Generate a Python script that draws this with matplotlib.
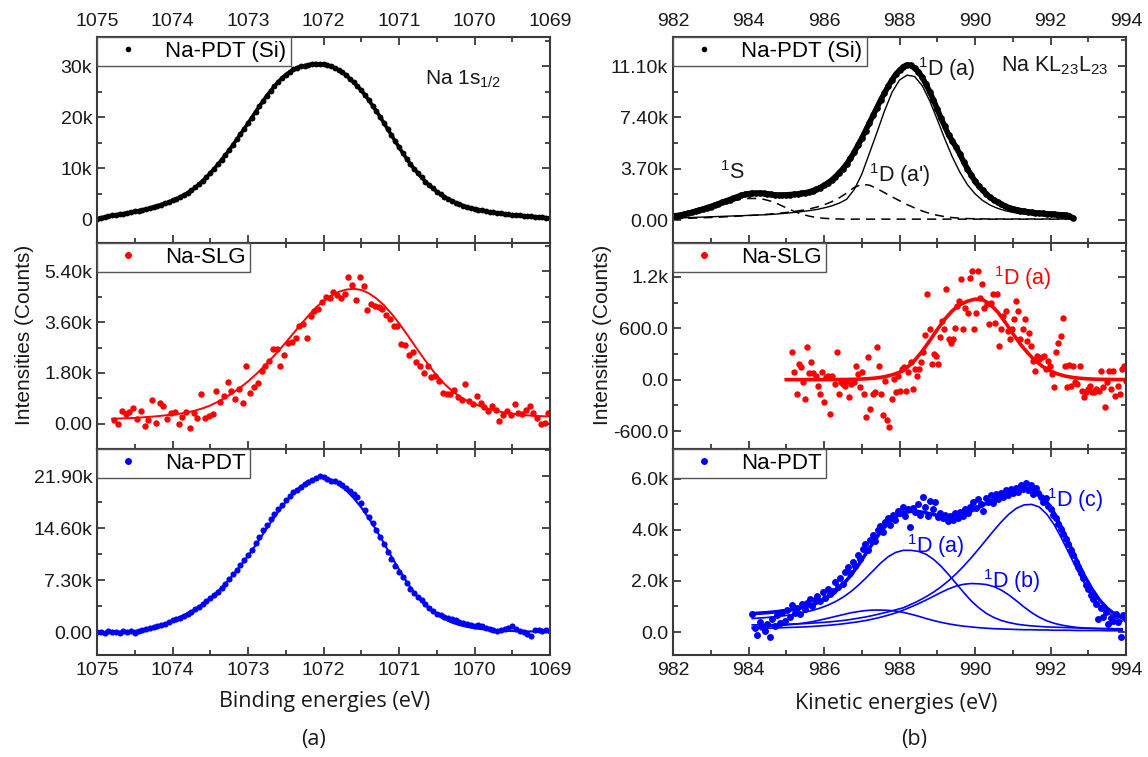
import numpy as np
import matplotlib.pyplot as plt
from matplotlib.ticker import FixedLocator, MultipleLocator
from matplotlib.lines import Line2D

plt.rcParams['font.family'] = ['Liberation Sans', 'DejaVu Sans']
plt.rcParams['mathtext.fontset'] = 'custom'
plt.rcParams['mathtext.rm'] = 'Liberation Sans'
plt.rcParams['mathtext.it'] = 'Liberation Sans:italic'

# ---------------- Na 1s core level (binding energy, kilo-counts) ----------------
na1s_pdt_si_range = (1075.0, 1069.0)
na1s_pdt_si = [
    0.10, 0.25, 0.40, 0.55, 0.70, 0.85, 0.95, 1.05, 1.20, 1.35,
    1.50, 1.65, 1.80, 1.95, 2.15, 2.40, 2.60, 2.85, 3.10, 3.35,
    3.65, 3.95, 4.30, 4.70, 5.15, 5.60, 6.20, 6.80, 7.50, 8.25,
    9.00, 9.85, 10.70, 11.60, 12.55, 13.50, 14.55, 15.60, 16.65, 17.70,
    18.80, 19.90, 21.00, 22.10, 23.15, 24.20, 25.15, 26.05, 26.90, 27.65,
    28.30, 28.85, 29.35, 29.70, 29.95, 30.10, 30.25, 30.45, 30.50, 30.40,
    30.35, 30.20, 29.95, 29.65, 29.25, 28.80, 28.20, 27.50, 26.80, 26.05,
    25.25, 24.30, 23.30, 22.25, 21.15, 20.05, 18.85, 17.65, 16.45, 15.25,
    14.10, 12.95, 11.85, 10.80, 9.85, 9.00, 8.15, 7.35, 6.65, 6.00,
    5.40, 4.85, 4.35, 3.95, 3.55, 3.20, 2.90, 2.60, 2.35, 2.15,
    2.00, 1.85, 1.70, 1.55, 1.40, 1.30, 1.20, 1.10, 1.00, 0.90,
    0.85, 0.80, 0.72, 0.65, 0.58, 0.50, 0.45, 0.40, 0.32, 0.25,
    0.20,
]

na1s_slg_range = (1074.77, 1069.02)
na1s_slg = [
    0.15, 0.00, 0.47, 0.35, 0.43, 0.55, 0.18, 0.45, -0.06, 0.12,
    0.86, 0.02, 0.74, 0.62, 0.18, 0.38, 0.43, 0.00, 0.26, 0.43,
    -0.15, 0.39, 0.21, 1.06, 0.20, 0.27, 0.35, 1.17, 0.76, 1.00,
    1.47, 1.17, 0.88, 1.23, 0.74, 2.05, 1.09, 1.29, 1.44, 1.88,
    2.03, 2.23, 2.64, 2.64, 2.05, 2.45, 2.85, 2.90, 3.05, 3.45,
    3.55, 3.05, 3.80, 4.00, 4.05, 4.30, 4.50, 4.45, 4.65, 4.55,
    4.45, 4.58, 5.20, 4.90, 4.38, 5.20, 4.88, 4.03, 4.25, 4.18,
    4.12, 4.08, 3.85, 3.70, 3.45, 3.45, 2.83, 2.80, 2.45, 2.55,
    2.20, 2.05, 1.80, 2.05, 1.65, 1.70, 1.50, 1.10, 1.05, 1.05,
    1.20, 0.95, 0.85, 1.40, 0.82, 0.70, 1.00, 0.75, 0.60, 0.45,
    0.62, 0.50, 0.10, 0.33, 0.45, 0.30, 0.70, 0.40, 0.35, 0.50,
    0.62, 0.40, 0.20, 0.00, 0.02, 0.40,
]

na1s_slg_fit_range = (1074.8, 1069.0)
na1s_slg_fit = [
    0.18, 0.19, 0.20, 0.21, 0.23, 0.25, 0.27, 0.30, 0.33, 0.36,
    0.41, 0.47, 0.55, 0.65, 0.78, 0.93, 1.10, 1.29, 1.50, 1.74,
    2.00, 2.28, 2.57, 2.88, 3.20, 3.52, 3.83, 4.12, 4.35, 4.54,
    4.67, 4.75, 4.78, 4.74, 4.62, 4.44, 4.20, 3.90, 3.56, 3.19,
    2.80, 2.42, 2.05, 1.71, 1.42, 1.17, 0.97, 0.82, 0.70, 0.60,
    0.52, 0.45, 0.40, 0.36, 0.33, 0.30, 0.28, 0.27, 0.26,
]

na1s_pdt_range = (1075.0, 1069.0)
na1s_pdt = [
    0.00, 0.05, -0.05, 0.10, 0.00, 0.05, -0.10, 0.10, 0.05, 0.15,
    -0.10, 0.20, 0.35, 0.45, 0.55, 0.70, 0.85, 1.00, 1.20, 1.45,
    1.70, 1.90, 2.05, 2.30, 2.55, 2.85, 3.20, 3.50, 3.90, 4.35,
    4.80, 5.20, 5.70, 6.20, 6.80, 7.45, 8.10, 8.75, 9.40, 10.10,
    10.80, 11.60, 12.50, 13.40, 14.30, 15.10, 15.90, 16.60, 17.30, 17.90,
    18.50, 19.05, 19.60, 20.00, 20.40, 20.80, 21.10, 21.40, 21.65, 21.85,
    21.80, 21.50, 21.20, 21.15, 20.95, 20.60, 20.20, 19.75, 19.40, 18.90,
    18.10, 17.20, 16.20, 15.30, 14.40, 13.40, 12.40, 11.30, 10.30, 9.30,
    8.50, 7.70, 6.90, 6.10, 5.50, 5.00, 4.45, 3.95, 3.45, 3.00,
    2.60, 2.35, 2.15, 2.00, 1.85, 1.65, 1.45, 1.25, 1.10, 1.00,
    0.90, 0.95, 0.80, 0.60, 0.40, 0.35, 0.20, 0.30, 0.40, 0.55,
    0.90, 0.50, 0.20, 0.00, -0.30, -0.50, 0.25, 0.35, 0.15, 0.30,
    0.20,
]

na1s_pdt_fit_range = (1075.0, 1069.0)
na1s_pdt_fit = [
    0.00, 0.02, 0.05, 0.08, 0.12, 0.20, 0.32, 0.50, 0.80, 1.15,
    1.65, 2.15, 2.65, 3.25, 3.95, 4.80, 5.75, 6.80, 8.00, 9.30,
    10.70, 12.20, 13.80, 15.40, 16.90, 18.30, 19.50, 20.50, 21.20, 21.60,
    21.70, 21.40, 20.80, 19.90, 18.80, 17.50, 16.00, 14.30, 12.50, 10.60,
    8.80, 7.10, 5.60, 4.30, 3.30, 2.50, 1.85, 1.35, 1.00, 0.75,
    0.55, 0.42, 0.32, 0.25, 0.20, 0.16, 0.13, 0.11, 0.10, 0.09,
    0.08,
]

# ---------------- Na KL23L23 Auger (kinetic energy) ----------------
auger_pdt_si_range = (982.0, 992.6)
auger_pdt_si = [
    0.30, 0.33, 0.37, 0.42, 0.50, 0.55, 0.65, 0.72, 0.80, 0.90,
    0.98, 1.08, 1.18, 1.28, 1.38, 1.48, 1.58, 1.68, 1.78, 1.85,
    1.90, 1.95, 1.92, 1.95, 1.92, 1.90, 1.85, 1.82, 1.80, 1.80,
    1.82, 1.84, 1.86, 1.88, 1.92, 1.97, 2.03, 2.12, 2.22, 2.35,
    2.50, 2.68, 2.88, 3.12, 3.40, 3.70, 4.05, 4.45, 4.90, 5.40,
    5.90, 6.45, 7.00, 7.55, 8.10, 8.65, 9.15, 9.65, 10.10, 10.50,
    10.80, 11.05, 11.20, 11.15, 10.95, 10.70, 10.30, 9.80, 9.25, 8.65,
    8.00, 7.35, 6.75, 6.15, 5.70, 5.25, 4.75, 4.20, 3.70, 3.25,
    2.80, 2.45, 2.15, 1.88, 1.65, 1.45, 1.28, 1.13, 1.00, 0.90,
    0.82, 0.75, 0.69, 0.64, 0.60, 0.56, 0.52, 0.50, 0.48, 0.46,
    0.44, 0.42, 0.40, 0.38, 0.36, 0.30, 0.12,
]

# fitted components for Na-PDT (Si), same energy span, 0.2 eV steps
auger_si_comp_range = (982.0, 992.6)
auger_si_1d_a = [
    0.15, 0.16, 0.18, 0.20, 0.22, 0.24, 0.26, 0.28, 0.30, 0.32,
    0.34, 0.36, 0.38, 0.41, 0.45, 0.50, 0.55, 0.61, 0.68, 0.76,
    0.88, 1.02, 1.22, 1.50, 2.20, 3.30, 4.80, 6.30, 7.85, 9.20,
    10.10, 10.45, 10.35, 9.70, 8.60, 7.25, 5.85, 4.55, 3.45, 2.55,
    1.90, 1.42, 1.08, 0.85, 0.68, 0.56, 0.47, 0.41, 0.36, 0.32,
    0.29, 0.26, 0.24, 0.22,
]
auger_si_1s = [
    0.25, 0.38, 0.52, 0.68, 0.84, 1.00, 1.14, 1.28, 1.40, 1.50,
    1.56, 1.56, 1.50, 1.36, 1.14, 0.88, 0.64, 0.44, 0.29, 0.19,
    0.13, 0.10, 0.08, 0.07, 0.07, 0.07, 0.07, 0.07, 0.07, 0.07,
    0.07, 0.07, 0.07, 0.07, 0.07, 0.07, 0.07, 0.07, 0.07, 0.07,
    0.07, 0.07, 0.07, 0.07, 0.07, 0.07, 0.07, 0.07, 0.07, 0.07,
    0.07, 0.07, 0.07, 0.07,
]
auger_si_1d_a2 = [
    0.10, 0.11, 0.13, 0.15, 0.17, 0.19, 0.21, 0.24, 0.27, 0.30,
    0.33, 0.36, 0.40, 0.44, 0.49, 0.55, 0.62, 0.70, 0.80, 0.93,
    1.10, 1.32, 1.60, 1.95, 2.35, 2.58, 2.52, 2.28, 1.98, 1.68,
    1.40, 1.12, 0.88, 0.66, 0.48, 0.35, 0.25, 0.18, 0.14, 0.11,
    0.10, 0.09, 0.08, 0.08, 0.08, 0.08, 0.08, 0.08, 0.08, 0.08,
    0.08, 0.08, 0.08, 0.08,
]

# Na-SLG, counts
auger_slg_range = (985.16, 994.0)
auger_slg = [
    317, 85, -166, 182, 143, -31, -224, 375, 74, 201,
    77, 46, -70, -166, 85, -263, 27, 46, -399, 46,
    -50, 317, -166, -31, -50, -70, -12, -205, -50, -31,
    162, 66, -89, 85, -166, -437, 259, -340, -166, -147,
    375, 155, -166, -418, -12, -476, -553, -224, 8, -147,
    46, -128, 124, 143, -128, 85, 201, -108, 124, 46,
    124, 201, 317, 519, 995, 588, 182, 298, 278, 182,
    492, 685, 588, 1061, 472, 433, 472, 608, 859, 918,
    1169, 588, 840, 782, 1189, 1266, 588, 782, 1266, 956,
    1111, 840, 879, 647, 898, 995, 666, 995, 395, 588,
    743, 801, 569, 472, 588, 705, 918, 801, 472, 588,
    705, 453, 550, 395, 221, 105, 279, 240, 259, 279,
    124, 221, 162, 66, -89, 317, 433, 511, 724, 162,
    -89, 170, -70, 162, -31, -50, 162, -128, -205, -147,
    -108, -70, -147, -147, -108, -128, 105, -89, -321, -31,
    105, -108, 105, -186, -70, -166, 124, 162, -12,
]
auger_slg_fit_range = (985.0, 994.0)
auger_slg_fit = [
    0, 0, 0, 0, 0, 0, 1, 1, 2, 4,
    7, 12, 20, 33, 55, 85, 140, 225, 330, 455,
    585, 705, 805, 875, 915, 940, 935, 880, 790, 670,
    540, 415, 310, 220, 150, 100, 65, 40, 25, 15,
    9, 5, 3, 2, 1, 0,
]

# Na-PDT, kilo-counts
auger_pdt_range = (984.1, 994.0)
auger_pdt = [
    0.70, 0.15, -0.10, 0.40, 0.20, 0.05, 0.30, -0.20, 0.50, 0.25,
    0.65, 0.35, 0.80, 0.45, 0.85, 0.60, 1.05, 0.75, 0.95, 0.70,
    1.10, 0.90, 1.15, 1.30, 1.00, 1.25, 1.40, 1.20, 1.55, 1.35,
    1.70, 1.50, 1.60, 1.95, 1.75, 2.10, 1.90, 2.35, 2.55, 2.30,
    2.75, 2.60, 3.00, 2.85, 3.25, 3.45, 3.20, 3.60, 3.80, 3.55,
    4.00, 4.15, 3.90, 4.30, 4.45, 4.20, 4.60, 4.40, 4.75, 4.65,
    4.90, 4.55, 4.80, 4.10, 4.85, 4.70, 5.00, 4.60, 5.30, 4.90,
    4.55, 5.15, 4.80, 5.10, 4.50, 4.65, 4.45, 4.60, 4.35, 4.55,
    4.40, 4.65, 4.45, 4.70, 4.55, 4.80, 4.65, 4.90, 5.10, 4.85,
    5.20, 5.00, 4.75, 5.25, 5.10, 5.35, 5.05, 5.40, 5.20, 5.45,
    5.30, 5.55, 5.35, 5.60, 5.45, 5.65, 5.50, 5.75, 5.60, 5.85,
    5.55, 5.75, 5.40, 5.65, 5.45, 5.30, 5.10, 5.25, 4.95, 4.80,
    4.60, 4.45, 4.25, 4.05, 3.85, 3.65, 3.45, 3.20, 3.00, 2.75,
    2.55, 2.30, 2.10, 1.85, 1.70, 1.45, 1.30, 1.10, 0.50, 0.95,
    0.60, 0.80, 0.30, 0.55, 0.45, 0.70, 0.40, -0.20, 0.65, 0.50,
]

# envelope and components for Na-PDT, 0.2 eV steps
auger_pdt_comp_range = (984.1, 993.9)
auger_pdt_fit = [
    0.72, 0.74, 0.76, 0.79, 0.82, 0.86, 0.91, 0.98, 1.07, 1.19,
    1.36, 1.58, 1.86, 2.20, 2.60, 3.05, 3.50, 3.92, 4.27, 4.52,
    4.67, 4.73, 4.72, 4.67, 4.60, 4.55, 4.53, 4.56, 4.63, 4.74,
    4.88, 5.04, 5.20, 5.36, 5.50, 5.60, 5.65, 5.60, 5.42, 5.10,
    4.65, 4.08, 3.45, 2.80, 2.20, 1.68, 1.25, 0.93, 0.70, 0.55,
]
auger_pdt_1d_a = [
    0.53, 0.55, 0.57, 0.60, 0.63, 0.67, 0.72, 0.78, 0.85, 0.94,
    1.05, 1.19, 1.36, 1.57, 1.82, 2.10, 2.40, 2.70, 2.95, 3.12,
    3.20, 3.20, 3.16, 3.05, 2.85, 2.58, 2.25, 1.90, 1.55, 1.22,
    0.95, 0.73, 0.57, 0.45, 0.37, 0.31, 0.27, 0.24, 0.22, 0.20,
    0.19, 0.18, 0.17, 0.16, 0.15, 0.15, 0.14, 0.14, 0.13, 0.13,
]
auger_pdt_shoulder = [
    0.19, 0.20, 0.22, 0.24, 0.26, 0.29, 0.32, 0.36, 0.41, 0.47,
    0.54, 0.61, 0.68, 0.75, 0.80, 0.84, 0.86, 0.86, 0.85, 0.82,
    0.77, 0.70, 0.62, 0.53, 0.45, 0.38, 0.32, 0.27, 0.23, 0.20,
    0.17, 0.15, 0.13, 0.12, 0.11, 0.10, 0.09, 0.09, 0.08, 0.08,
    0.07, 0.07, 0.07, 0.06, 0.06, 0.06, 0.06, 0.05, 0.05, 0.05,
]
auger_pdt_1d_b = [
    0.14, 0.14, 0.15, 0.16, 0.17, 0.18, 0.19, 0.20, 0.22, 0.24,
    0.26, 0.29, 0.32, 0.36, 0.40, 0.45, 0.51, 0.58, 0.66, 0.75,
    0.86, 0.98, 1.11, 1.25, 1.40, 1.55, 1.69, 1.80, 1.87, 1.90,
    1.89, 1.86, 1.78, 1.64, 1.45, 1.22, 0.98, 0.76, 0.58, 0.44,
    0.34, 0.27, 0.22, 0.18, 0.16, 0.14, 0.13, 0.12, 0.11, 0.11,
]
auger_pdt_1d_c = [
    0.28, 0.28, 0.29, 0.29, 0.30, 0.31, 0.32, 0.33, 0.35, 0.37,
    0.39, 0.42, 0.45, 0.49, 0.54, 0.59, 0.65, 0.72, 0.79, 0.87,
    0.95, 1.08, 1.22, 1.38, 1.56, 1.77, 2.01, 2.28, 2.58, 2.91,
    3.26, 3.62, 3.98, 4.32, 4.62, 4.85, 4.98, 5.00, 4.90, 4.62,
    4.20, 3.65, 3.05, 2.45, 1.90, 1.43, 1.06, 0.78, 0.57, 0.43,
]


def series(rng, values, scale=1000.0):
    x = np.linspace(rng[0], rng[1], len(values))
    return x, np.asarray(values, dtype=float) * scale


BLACK, RED, BLUE = '#000000', '#ff0000', '#0000ff'
SPINE = '#3a3a3a'
TXT = '#1a1a1a'

fig = plt.figure(figsize=(11.48, 7.57), dpi=100)
W, H = 1148.0, 757.0
col_x = [97, 673]
col_w = 453
row_top = [37, 243, 449]
row_h = 206

axes = [[None] * 3 for _ in range(2)]
for c in range(2):
    for r in range(3):
        axes[c][r] = fig.add_axes([col_x[c] / W, 1 - (row_top[r] + row_h) / H,
                                   col_w / W, row_h / H])


def style(ax, xlim, xmaj, xmin, ylim, yt, ylab, ymin, row):
    ax.set_xlim(*xlim)
    ax.set_ylim(*ylim)
    ax.xaxis.set_major_locator(MultipleLocator(xmaj))
    ax.xaxis.set_minor_locator(MultipleLocator(xmin))
    ax.set_yticks(yt, ylab)
    ax.yaxis.set_minor_locator(FixedLocator(ymin))
    ax.tick_params(which='both', direction='in', top=True, right=True,
                   color=SPINE, width=1.3, labelcolor=TXT, labelsize=14,
                   labeltop=(row == 0), labelbottom=(row == 2))
    ax.tick_params(which='major', length=6)
    ax.tick_params(which='minor', length=3.5)
    ax.tick_params(axis='x', pad=5)
    for s in ax.spines.values():
        s.set_linewidth(1.5)
        s.set_color(SPINE)


def add_legend(ax, label, color, ms):
    h = Line2D([], [], ls='none', marker='o', ms=ms, mew=0, color=color)
    leg = ax.legend([h], [label], loc='upper left', borderaxespad=0,
                    fontsize=16, borderpad=0.18, handlelength=2.4,
                    handletextpad=0.5, fancybox=False, framealpha=1)
    leg.get_frame().set_edgecolor('#555555')
    leg.get_frame().set_linewidth(1.0)


def dense(ax, x, y, color, ms, lw):
    # closely spaced channels read as a continuous band
    ax.plot(x, y, '-', lw=lw, color=color, solid_capstyle='round')
    ax.plot(x, y, 'o', ms=ms, mew=0, color=color)


def k(vals):
    return [v * 1000 for v in vals]


# --- left column: Na 1s ---
ax = axes[0][0]
x, y = series(na1s_pdt_si_range, na1s_pdt_si)
dense(ax, x, y, BLACK, 4.2, 2.6)
style(ax, (1075, 1069), 1, 0.5, (-4700, 35700), k([0, 10, 20, 30]),
      ['0', '10k', '20k', '30k'], k([5, 15, 25, 35]), 0)
add_legend(ax, 'Na-PDT (Si)', BLACK, 4)
ax.text(1070.65, 27300, r'Na 1s$_{\mathit{1/2}}$', fontsize=15, color=TXT, va='center')

ax = axes[0][1]
x, y = series(na1s_slg_range, na1s_slg)
ax.plot(x, y, 'o', ms=4.6, mew=0, color=RED)
x, y = series(na1s_slg_fit_range, na1s_slg_fit)
ax.plot(x, y, '-', lw=1.4, color=RED)
style(ax, (1075, 1069), 1, 0.5, (-890, 6400), k([0, 1.8, 3.6, 5.4]),
      ['0.00', '1.80k', '3.60k', '5.40k'], k([0.9, 2.7, 4.5, 6.3]), 1)
add_legend(ax, 'Na-SLG', RED, 5)

ax = axes[0][2]
x, y = series(na1s_pdt_range, na1s_pdt)
ax.plot(x, y, 'o', ms=4.4, mew=0, color=BLUE)
x, y = series(na1s_pdt_fit_range, na1s_pdt_fit)
ax.plot(x, y, '-', lw=1.5, color=BLUE)
style(ax, (1075, 1069), 1, 0.5, (-3200, 25700), k([0, 7.3, 14.6, 21.9]),
      ['0.00', '7.30k', '14.60k', '21.90k'], k([3.65, 10.95, 18.25, 25.55]), 2)
add_legend(ax, 'Na-PDT', BLUE, 5)

# --- right column: Na KL23L23 Auger ---
sup = lambda s: r'$^{\mathrm{1}}$' + s

ax = axes[1][0]
x, y = series(auger_pdt_si_range, auger_pdt_si)
dense(ax, x, y, BLACK, 4.8, 4.0)
x, y = series(auger_si_comp_range, auger_si_1d_a)
ax.plot(x, y, '-', lw=1.0, color=BLACK)
x, y = series(auger_si_comp_range, auger_si_1s)
ax.plot(x, y, '--', lw=1.1, color=BLACK, dashes=(6, 4))
x, y = series(auger_si_comp_range, auger_si_1d_a2)
ax.plot(x, y, '--', lw=1.1, color=BLACK, dashes=(6, 4))
style(ax, (982, 994), 2, 1, (-1650, 13200), k([0, 3.7, 7.4, 11.1]),
      ['0.00', '3.70k', '7.40k', '11.10k'], k([1.85, 5.55, 9.25, 12.95]), 0)
add_legend(ax, 'Na-PDT (Si)', BLACK, 4)
ax.text(988.5, 10900, sup('D (a)'), fontsize=15.5, color=TXT, va='center')
ax.text(990.7, 11150, r'Na KL$_{\mathrm{23}}$L$_{\mathrm{23}}$', fontsize=15.5, color=TXT, va='center')
ax.text(983.25, 3450, sup('S'), fontsize=15.5, color=TXT, va='center')
ax.text(987.2, 3250, sup("D (a')"), fontsize=15.5, color=TXT, va='center')

ax = axes[1][1]
x, y = series(auger_slg_range, auger_slg, scale=1.0)
ax.plot(x, y, 'o', ms=4.6, mew=0, color=RED)
x, y = series(auger_slg_fit_range, auger_slg_fit, scale=1.0)
ax.plot(x, y, '-', lw=2.6, color=RED)
style(ax, (982, 994), 2, 1, (-810, 1595), [-600, 0, 600, 1200],
      ['-600.0', '0.0', '600.0', '1.2k'], [-300, 300, 900, 1500], 1)
add_legend(ax, 'Na-SLG', RED, 5)
ax.text(990.5, 1190, sup('D (a)'), fontsize=15.5, color=RED, va='center')

ax = axes[1][2]
x, y = series(auger_pdt_range, auger_pdt)
ax.plot(x, y, 'o', ms=5.0, mew=0, color=BLUE)
for comp in (auger_pdt_1d_a, auger_pdt_shoulder, auger_pdt_1d_b, auger_pdt_1d_c):
    x, y = series(auger_pdt_comp_range, comp)
    ax.plot(x, y, '-', lw=1.2, color=BLUE)
x, y = series(auger_pdt_comp_range, auger_pdt_fit)
ax.plot(x, y, '-', lw=2.6, color=BLUE)
style(ax, (982, 994), 2, 1, (-900, 7170), k([0, 2, 4, 6]),
      ['0.0', '2.0k', '4.0k', '6.0k'], k([1, 3, 5, 7]), 2)
add_legend(ax, 'Na-PDT', BLUE, 5)
ax.text(988.2, 3370, sup('D (a)'), fontsize=15.5, color=BLUE, va='center')
ax.text(990.2, 1980, sup('D (b)'), fontsize=15.5, color=BLUE, va='center')
ax.text(991.9, 5180, sup('D (c)'), fontsize=15.5, color=BLUE, va='center')

# shared labels
for xc in (24, 602):
    fig.text(xc / W, 1 - 335 / H, 'Intensities (Counts)', rotation=90,
             ha='center', va='center', fontsize=15, color=TXT)
fig.text(325 / W, 1 - 702 / H, 'Binding energies (eV)', ha='center', va='center',
         fontsize=15.5, family='Open Sans', color=TXT)
fig.text(896 / W, 1 - 704 / H, 'Kinetic energies (eV)', ha='center', va='center',
         fontsize=15.5, family='Open Sans', color=TXT)
fig.text(313 / W, 1 - 740 / H, '(a)', ha='center', va='center',
         fontsize=15.5, family='Open Sans', color=TXT)
fig.text(914 / W, 1 - 740 / H, '(b)', ha='center', va='center',
         fontsize=15.5, family='Open Sans', color=TXT)

fig.savefig('out.png', dpi=100, facecolor='white')
